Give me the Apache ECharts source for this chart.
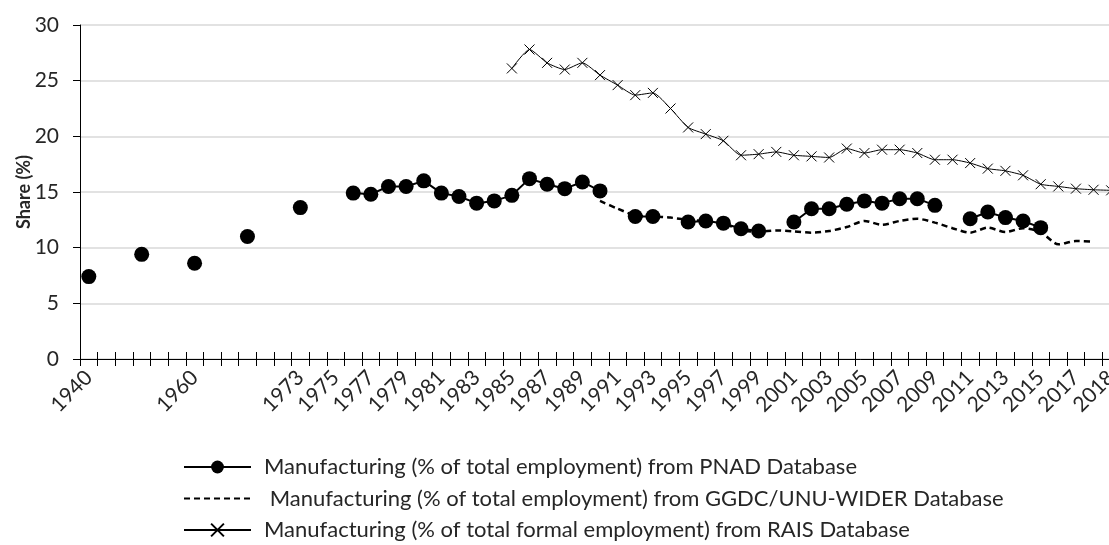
<!DOCTYPE html>
<html>
<head>
<meta charset="utf-8">
<script src="https://cdn.jsdelivr.net/npm/echarts@6/dist/echarts.min.js"></script>
<style>
html,body{margin:0;padding:0;overflow:hidden;background:#fff;}
#chart{width:1130px;height:545px;}
</style>
</head>
<body>
<div id="chart"></div>
<script>
// Category labels (index positions as in the original axis)
const years = ['1940','','','1950','','','1960','','','1970','','','1973','1974','1975','1976','1977','1978','1979','1980','1981','1982','1983','1984','1985','1986','1987','1988','1989','1990','1991','1992','1993','1994','1995','1996','1997','1998','1999','2000','2001','2002','2003','2004','2005','2006','2007','2008','2009','2010','2011','2012','2013','2014','2015','2016','2017','','2018'];

// PNAD: Manufacturing (% of total employment)
const pnad = [7.4,null,null,9.4,null,null,8.6,null,null,11.0,null,null,13.6,null,null,
  14.9,14.8,15.5,15.5,16.0,14.9,14.6,14.0,14.2,14.7,16.2,15.7,15.3,15.9,15.1,
  null,12.8,12.8,null,12.3,12.4,12.2,11.7,11.5,null,12.3,13.5,13.5,13.9,14.2,14.0,14.4,14.4,13.8,
  null,12.6,13.2,12.7,12.4,11.8,null,null,null,null];

// GGDC/UNU-WIDER: Manufacturing (% of total employment)
const ggdc = [null,null,null,null,null,null,null,null,null,null,null,null,null,null,null,
  null,null,null,null,null,null,null,null,null,null,null,null,null,null,14.2,
  13.5,12.9,12.8,12.7,12.5,12.4,12.2,11.55,11.45,11.55,11.45,11.35,11.5,11.85,12.4,12.05,12.4,12.6,12.25,
  11.75,11.35,11.8,11.4,11.75,11.4,10.3,10.6,10.55,null];

// RAIS: Manufacturing (% of total formal employment)
const rais = [null,null,null,null,null,null,null,null,null,null,null,null,null,null,null,
  null,null,null,null,null,null,null,null,null,26.1,27.8,26.6,26.0,26.6,25.5,
  24.6,23.7,23.9,22.5,20.8,20.2,19.6,18.3,18.4,18.6,18.3,18.2,18.1,18.9,18.5,18.8,18.8,18.5,17.9,
  17.9,17.6,17.1,16.9,16.5,15.7,15.5,15.3,15.2,15.15];

const seriesNames = [
  'Manufacturing (% of total employment) from PNAD Database',
  ' Manufacturing (% of total employment) from GGDC/UNU-WIDER Database',
  'Manufacturing (% of total formal employment) from RAIS Database'
];

const FONT = 'Lato, "Noto Sans", sans-serif';
const TXT = '#262626';

const chart = echarts.init(document.getElementById('chart'), null, {renderer:'canvas'});
chart.setOption({
  animation: false,
  grid: {left: 80, right: 10, top: 25, bottom: 186, containLabel: false},
  legend: {
    orient: 'vertical',
    left: 183,
    top: 456,
    height: 200,
    padding: 0,
    itemWidth: 67,
    itemHeight: 16,
    itemGap: 9.5,
    textStyle: {fontFamily: FONT, fontSize: 22, color: TXT, lineHeight: 22, padding: [0,0,0,8]},
    data: [
      {name: seriesNames[0]},
      {name: seriesNames[1], itemStyle: {opacity: 0}},
      {name: seriesNames[2]}
    ]
  },
  xAxis: [{
    type: 'category',
    position: 'bottom',
    data: years,
    boundaryGap: true,
    axisLine: {show: true, lineStyle: {color: '#000', width: 1}},
    axisTick: {show: true, interval: 0, length: 7, inside: false, lineStyle: {color: '#000'}},
    axisLabel: {interval: 1, rotate: 45, fontFamily: FONT, fontSize: 21, color: TXT, margin: 15},
    splitLine: {show: false}
  },{
    type: 'category',
    position: 'bottom',
    data: years,
    boundaryGap: true,
    axisLine: {show: false},
    axisTick: {show: true, interval: 0, length: 7, inside: true, lineStyle: {color: '#000'}},
    axisLabel: {show: false},
    splitLine: {show: false}
  }],
  yAxis: {
    type: 'value',
    min: 0, max: 30, interval: 5,
    name: 'Share (%)',
    nameLocation: 'middle',
    nameGap: 47,
    nameMoveOverlap: false,
    nameTextStyle: {fontFamily: FONT, fontSize: 18, fontWeight: 'bold', color: TXT},
    axisLine: {show: true, lineStyle: {color: '#000', width: 1}},
    axisTick: {show: true, length: 7, inside: false, lineStyle: {color: '#000'}},
    axisLabel: {fontFamily: FONT, fontSize: 21, color: TXT, margin: 21},
    splitLine: {show: true, lineStyle: {color: '#d9d9d9', width: 1.5}}
  },
  series: [
    {
      name: seriesNames[0],
      type: 'line',
      data: pnad,
      connectNulls: false,
      symbol: 'circle',
      symbolSize: 15,
      showAllSymbol: true,
      itemStyle: {color: '#000'},
      lineStyle: {color: '#000', width: 2},
      z: 4
    },
    {
      name: seriesNames[1],
      type: 'line',
      data: ggdc,
      connectNulls: false,
      symbol: 'none',
      smooth: 0.25,
      itemStyle: {color: '#000'},
      lineStyle: {color: '#000', width: 2.5, type: [6, 4]},
      z: 3
    },
    {
      name: seriesNames[2],
      type: 'line',
      data: rais,
      connectNulls: false,
      symbol: 'path://M0,0L10,10M10,0L0,10',
      symbolSize: 10,
      showAllSymbol: true,
      smooth: 0.2,
      itemStyle: {color: 'none', borderColor: '#000', borderWidth: 1},
      lineStyle: {color: '#000', width: 1},
      z: 3
    }
  ]
});
</script>
</body>
</html>
